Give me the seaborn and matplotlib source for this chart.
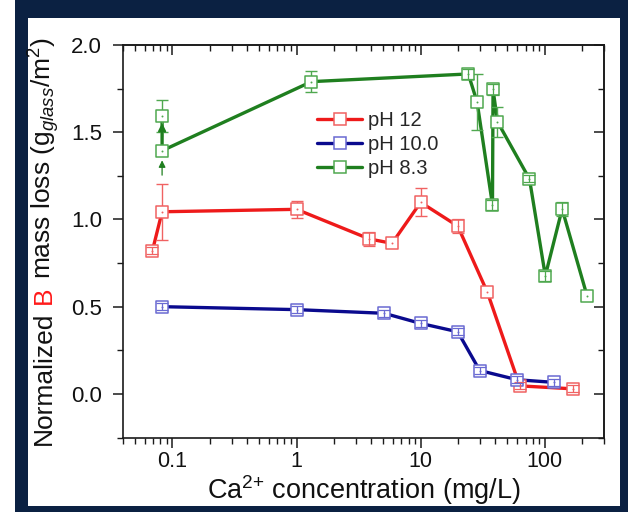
import numpy as np
import pandas as pd
import matplotlib
matplotlib.use("Agg")
import matplotlib.pyplot as plt
import matplotlib.ticker as mticker
import matplotlib.transforms as mtransforms
from matplotlib.patches import Rectangle
from matplotlib.lines import Line2D
import seaborn as sns

# ---------------- data ----------------
series_names = ["pH 12", "pH 10.0", "pH 8.3"]

ph12_ca = [0.069, 0.0826, 1.0, 3.87, 5.88, 10.0, 19.9, 34.5, 62.8, 168]
ph12_loss = [0.82, 1.044, 1.058, 0.888, 0.863, 1.098, 0.962, 0.582, 0.046, 0.029]
ph12_err = [0.02, 0.16, 0.05, 0.04, 0.0, 0.08, 0.04, 0.0, 0.02, 0.02]

ph10_ca = [0.0826, 1.0, 5.08, 10.0, 19.9, 29.9, 60, 119]
ph10_loss = [0.50, 0.483, 0.462, 0.404, 0.356, 0.134, 0.081, 0.066]
ph10_err = [0.02, 0.02, 0.02, 0.02, 0.02, 0.02, 0.02, 0.02]

ph83_ca = [0.0826, 0.0826, 1.32, 24.2, 28.5, 37.9, 38.3, 41.6, 75.3, 101, 138, 219]
ph83_loss = [1.593, 1.394, 1.79, 1.834, 1.673, 1.083, 1.746, 1.56, 1.232, 0.677, 1.06, 0.5625]
ph83_err = [0.09, 0.0, 0.06, 0.03, 0.16, 0.03, 0.03, 0.085, 0.02, 0.03, 0.04, 0.0]

x_tick_vals = [0.1, 1, 10, 100]
x_tick_labels = ["0.1", "1", "10", "100"]
y_tick_vals = [0.0, 0.5, 1.0, 1.5, 2.0]
y_tick_labels = ["0.0", "0.5", "1.0", "1.5", "2.0"]

# ---------------- style ----------------
sns.set_style("ticks")
plt.rcParams["font.family"] = ["Liberation Sans", "DejaVu Sans"]
plt.rcParams["mathtext.fontset"] = "custom"
plt.rcParams["mathtext.rm"] = "Liberation Sans"
plt.rcParams["mathtext.it"] = "Liberation Sans:italic"
plt.rcParams["mathtext.bf"] = "Liberation Sans:bold"

line_colors = ["#ee1a1a", "#0a0a8e", "#1f7f1f"]
mark_colors = ["#f06262", "#6a6ad2", "#4fa84f"]
navy = "#0b2142"
ink = "#111111"

W, H = 628, 512
fig = plt.figure(figsize=(W / 100, H / 100), dpi=100, facecolor="white")
fig.patches.append(Rectangle((15 / W, 0), (W - 15) / W, 1, transform=fig.transFigure,
                             facecolor=navy, edgecolor="none", zorder=-10))
fig.patches.append(Rectangle((28 / W, (H - 506) / H), (620 - 28) / W, (506 - 18) / H,
                             transform=fig.transFigure, facecolor="white",
                             edgecolor="none", zorder=-9))

ax_l, ax_r, ax_t, ax_b = 123, 604, 45, 437.5
ax = fig.add_axes([ax_l / W, 1 - ax_b / H, (ax_r - ax_l) / W, (ax_b - ax_t) / H])
ax.set_facecolor("none")

all_series = [(ph12_ca, ph12_loss, ph12_err), (ph10_ca, ph10_loss, ph10_err),
              (ph83_ca, ph83_loss, ph83_err)]

for (xs, ys, es), lc, mc, name in zip(all_series, line_colors, mark_colors, series_names):
    df = pd.DataFrame({"ca": xs, "loss": ys, "err": es})
    sns.lineplot(data=df, x="ca", y="loss", sort=False, estimator=None,
                 color=lc, lw=2.4, ax=ax, zorder=2)
    big = df[df["err"] >= 0.05]
    small = df[(df["err"] > 0) & (df["err"] < 0.05)]
    ax.errorbar(big["ca"], big["loss"], yerr=big["err"], fmt="none", ecolor=mc,
                elinewidth=1.0, capsize=4.5, capthick=1.0, zorder=2.5)
    sns.scatterplot(data=df, x="ca", y="loss", marker="s", s=78, color="white",
                    edgecolor=mc, linewidth=1.1, ax=ax, zorder=3, legend=False)
    ax.errorbar(small["ca"], small["loss"], yerr=small["err"], fmt="none", ecolor=mc,
                elinewidth=0.9, capsize=4.5, capthick=0.9, zorder=4)
    ax.scatter(df["ca"], df["loss"], s=2, color=mc, zorder=5, linewidths=0)

# arrows on the pH 8.3 points at the lowest concentration
gx = ph83_ca[1]
ax.annotate("", xy=(gx, ph83_loss[1] - 0.055), xytext=(gx, ph83_loss[1] - 0.14),
            arrowprops=dict(arrowstyle="-|>", color=line_colors[2], lw=0.9,
                            mutation_scale=10, shrinkA=0, shrinkB=0), zorder=4)
ax.annotate("", xy=(gx, ph83_loss[0] - 0.04), xytext=(gx, ph83_loss[0] - 0.12),
            arrowprops=dict(arrowstyle="-|>", color=line_colors[2], lw=1.5,
                            mutation_scale=11, shrinkA=0, shrinkB=0), zorder=4)

# ---------------- axes ----------------
ax.set_xscale("log")
ax.set_xlim(0.04, 300)
ax.set_ylim(-0.25, 2.0)
ax.set_xticks(x_tick_vals, labels=x_tick_labels)
ax.xaxis.set_minor_locator(mticker.LogLocator(base=10, subs=np.arange(2, 10)))
ax.xaxis.set_minor_formatter(mticker.NullFormatter())
ax.set_yticks(y_tick_vals, labels=y_tick_labels)
ax.yaxis.set_minor_locator(mticker.MultipleLocator(0.25))
ax.set_xlabel("")
ax.set_ylabel("")

for side in ["top", "right", "bottom", "left"]:
    ax.spines[side].set_visible(True)
    ax.spines[side].set_linewidth(1.2)
    ax.spines[side].set_color("#1a1a1a")

ax.tick_params(which="major", direction="out", length=7, width=1.1, color="#1a1a1a",
               labelcolor=ink)
ax.tick_params(axis="x", which="major", pad=3, labelsize=15.5)
ax.tick_params(axis="y", which="major", pad=8, labelsize=16)
ax.tick_params(which="minor", direction="out", length=4, width=1.0, color="#1a1a1a")
ax.tick_params(top=False, right=False)

secx = ax.secondary_xaxis("top")
secx.set_xticks(x_tick_vals)
secx.xaxis.set_minor_locator(mticker.LogLocator(base=10, subs=np.arange(2, 10)))
secx.xaxis.set_major_formatter(mticker.NullFormatter())
secx.xaxis.set_minor_formatter(mticker.NullFormatter())
secx.tick_params(which="major", direction="in", length=7, width=1.1, color="#1a1a1a")
secx.tick_params(which="minor", direction="in", length=4, width=1.0, color="#1a1a1a")
secx.spines["top"].set_linewidth(1.2)

secy = ax.secondary_yaxis("right")
secy.set_yticks(y_tick_vals)
secy.yaxis.set_minor_locator(mticker.MultipleLocator(0.25))
secy.yaxis.set_major_formatter(mticker.NullFormatter())
secy.yaxis.set_minor_formatter(mticker.NullFormatter())
secy.tick_params(which="major", direction="in", length=7, width=1.1, color="#1a1a1a")
secy.tick_params(which="minor", direction="in", length=4, width=1.0, color="#1a1a1a")
secy.spines["right"].set_linewidth(1.2)

# legend
handles = [Line2D([], [], color=lc, lw=2.4, marker="s", markersize=8.8,
                  markerfacecolor="white", markeredgecolor=mc, markeredgewidth=1.1)
           for lc, mc in zip(line_colors, mark_colors)]
ax.legend(handles, series_names, loc="upper left",
          bbox_to_anchor=((317 - ax_l) / (ax_r - ax_l), (ax_b - 111) / (ax_b - ax_t)),
          frameon=False, fontsize=14.5, handlelength=2.25, handletextpad=0.3,
          labelspacing=0.26, borderpad=0, borderaxespad=0)

# x label
fig.text((ax_l + ax_r) / 2 / W, 1 - 499 / H, r"Ca$^{2{+}}$ concentration (mg/L)",
         ha="center", va="baseline", fontsize=19.5, color=ink)

# y label (multi-coloured, built from pieces)
renderer = fig.canvas.get_renderer()
ident = mtransforms.IdentityTransform()
fs = 19


def measure(s):
    t = fig.text(0, 0, s, fontsize=fs, rotation=90, rotation_mode="anchor",
                 ha="left", va="baseline", transform=ident)
    h = t.get_window_extent(renderer).height
    t.remove()
    return h


p3 = r"mass loss (g$_{\mathit{glass}}$/m$^{2}$)"
off_b = measure("Normalized B") - measure("B")
off_3 = measure("Normalized B mass") - measure("mass")
total = off_3 + measure(p3)
base_x = 51
y_center = H - (ax_t + ax_b) / 2
y0 = y_center - total / 2
for s, c, off in [("Normalized", ink, 0), ("B", "#ff1a1a", off_b), (p3, ink, off_3)]:
    fig.text(base_x, y0 + off, s, fontsize=fs, rotation=90, rotation_mode="anchor",
             ha="left", va="baseline", transform=ident, color=c)

fig.savefig("out.png", dpi=100, facecolor=fig.get_facecolor())
